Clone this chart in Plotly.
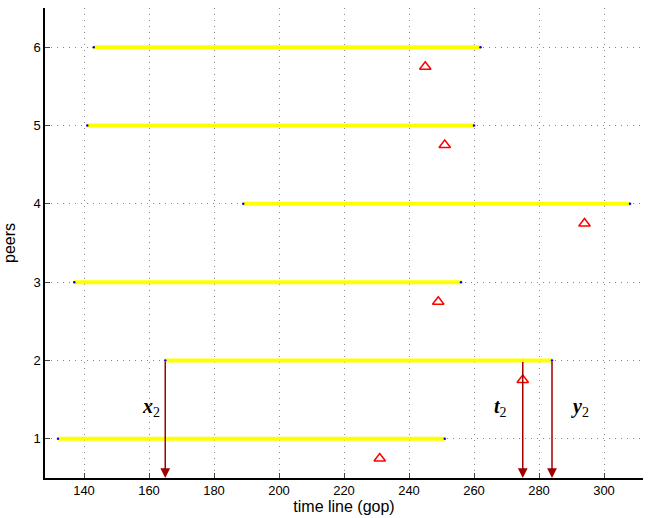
import plotly.graph_objects as go

peers = [1, 2, 3, 4, 5, 6]
seg_start = [132, 165, 137, 189, 141, 143]
seg_end = [251, 284, 256, 308, 260, 262]
tri_x = [231, 275, 249, 294, 251, 245]
tri_y = [0.75, 1.75, 2.75, 3.75, 4.75, 5.75]

arrow_x = [165, 275, 284]
arrow_top = 2
arrow_bottom = 0.5
arrow_labels = ["x", "t", "y"]
label_x = [160.5, 268, 292.5]
label_y = [1.4, 1.4, 1.4]

x_ticks = [140, 160, 180, 200, 220, 240, 260, 280, 300]
y_ticks = [1, 2, 3, 4, 5, 6]

RED_DARK = "#a00000"

fig = go.Figure()

for p, s, e in zip(peers, seg_start, seg_end):
    fig.add_trace(go.Scatter(
        x=[s, e], y=[p, p], mode="lines",
        line=dict(color="#ffff00", width=4),
        showlegend=False, hoverinfo="skip"))
    fig.add_trace(go.Scatter(
        x=[s, e], y=[p, p], mode="markers",
        marker=dict(color="#0000ff", size=2.5),
        showlegend=False, hoverinfo="skip"))

fig.add_trace(go.Scatter(
    x=tri_x, y=tri_y, mode="markers",
    marker=dict(symbol="triangle-up-open", color="#ff0000", size=10,
                line=dict(width=1.5, color="#ff0000")),
    showlegend=False))

for ax_ in arrow_x:
    fig.add_annotation(
        x=ax_, y=arrow_bottom, ax=ax_, ay=arrow_top,
        xref="x", yref="y", axref="x", ayref="y",
        text="", showarrow=True, arrowhead=2, arrowsize=1.3,
        arrowwidth=1.5, arrowcolor=RED_DARK)

for lab, lx, ly in zip(arrow_labels, label_x, label_y):
    fig.add_annotation(
        x=lx, y=ly, xref="x", yref="y", showarrow=False,
        text=f"<b><i>{lab}</i></b><sub>2</sub>",
        font=dict(family="Liberation Serif, DejaVu Serif, serif", size=20, color="black"))

fig.update_layout(
    width=649, height=518,
    margin=dict(l=45, r=6, t=8, b=40),
    paper_bgcolor="white", plot_bgcolor="white",
    font=dict(family="Liberation Sans, Arial, sans-serif", size=13, color="black"),
    xaxis=dict(
        range=[128, 312], tickvals=x_ticks, ticks="inside", ticklen=5,
        showline=True, linecolor="black", linewidth=1.5, mirror=False,
        showgrid=True, gridcolor="#888888", gridwidth=1, griddash="1px,5px",
        zeroline=False, automargin=False,
        title=dict(text="time line (gop)", font=dict(size=16), standoff=2),
    ),
    yaxis=dict(
        range=[0.5, 6.5], tickvals=y_ticks, ticks="inside", ticklen=5,
        showline=True, linecolor="black", linewidth=1.5, mirror=False,
        showgrid=True, gridcolor="#888888", gridwidth=1, griddash="1px,5px",
        zeroline=False, automargin=False,
        title=dict(text="peers", font=dict(size=16), standoff=14),
    ),
)

fig.write_html("out.html", config={"displayModeBar": False},
               post_script="document.body.style.margin='0';document.body.style.overflow='hidden';")
